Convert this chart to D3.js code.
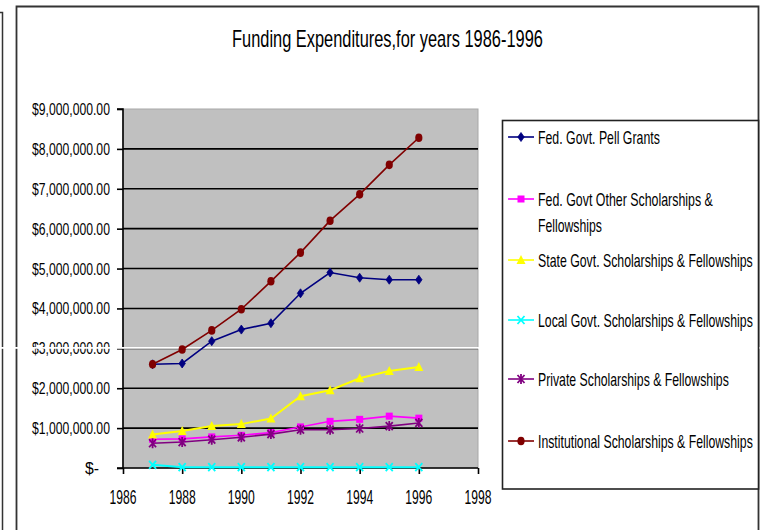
<!DOCTYPE html>
<html>
<head>
<meta charset="utf-8">
<script src="https://cdn.jsdelivr.net/npm/d3@7"></script>
<style>
  html, body { margin: 0; padding: 0; background: #ffffff; }
  svg { display: block; }
  text { font-family: "Liberation Sans Narrow", "Arial Narrow", "Liberation Sans", Arial, sans-serif; fill: #000; }
</style>
</head>
<body>
<svg id="chart" width="762" height="530"></svg>
<script>
// ---- data ----
const years = [1987, 1988, 1989, 1990, 1991, 1992, 1993, 1994, 1995, 1996];
const pellGrants   = [2600000, 2620000, 3180000, 3470000, 3630000, 4380000, 4900000, 4770000, 4720000, 4720000];
const fedOther     = [720000, 730000, 780000, 820000, 890000, 1030000, 1170000, 1220000, 1300000, 1250000];
const stateGovt    = [840000, 930000, 1050000, 1100000, 1240000, 1800000, 1950000, 2250000, 2430000, 2530000];
const localGovt    = [80000, 20000, 20000, 20000, 20000, 20000, 20000, 20000, 20000, 20000];
const privateSch   = [620000, 650000, 710000, 770000, 850000, 960000, 960000, 990000, 1050000, 1130000];
const institutional= [2600000, 2970000, 3450000, 3980000, 4680000, 5400000, 6200000, 6860000, 7600000, 8280000];

const seriesNames = [
  "Fed. Govt. Pell Grants",
  "Fed. Govt Other Scholarships & Fellowships",
  "State Govt. Scholarships & Fellowships",
  "Local Govt. Scholarships & Fellowships",
  "Private Scholarships & Fellowships",
  "Institutional Scholarships & Fellowships"
];
const seriesValues = [pellGrants, fedOther, stateGovt, localGovt, privateSch, institutional];
const seriesColors = ["#000080", "#ff00ff", "#ffff00", "#00ffff", "#800080", "#800000"];
const seriesMarkers = ["diamond", "square", "triangle", "x", "star", "circle"];

const yTicks = [0, 1000000, 2000000, 3000000, 4000000, 5000000, 6000000, 7000000, 8000000, 9000000];
const xTicks = [1986, 1988, 1990, 1992, 1994, 1996, 1998];
const titleText = "Funding Expenditures,for years 1986-1996";

// ---- layout ----
const svg = d3.select("#chart");
const x = d3.scaleLinear().domain([1986, 1998]).range([123, 478]);
const y = d3.scaleLinear().domain([0, 9000000]).range([468, 109]);

// place a text so that it spans `width` px starting at (tx, ty) baseline, compressing horizontally
function fitText(parent, str, tx, ty, width, size, anchor) {
  const g = parent.append("g");
  const t = g.append("text").attr("x", 0).attr("y", 0).attr("font-size", size).text(str);
  const w = t.node().getComputedTextLength() || width;
  const k = width / w;
  const left = anchor === "end" ? tx - width : anchor === "middle" ? tx - width / 2 : tx;
  g.attr("transform", `translate(${left},${ty}) scale(${k},1)`);
  return t;
}

// outer frames
svg.append("path").attr("d", "M0,12.5 H2.5 V531").attr("fill", "none").attr("stroke", "#333").attr("stroke-width", 1.5);
svg.append("path").attr("d", "M16.5,531 V6.5 H758.5 V531").attr("fill", "none").attr("stroke", "#333").attr("stroke-width", 1.8);

// title
fitText(svg, titleText, 232, 47, 311, 23, "start");

// plot area
svg.append("rect")
  .attr("x", x(1986)).attr("y", y(9000000))
  .attr("width", x(1998) - x(1986)).attr("height", y(0) - y(9000000))
  .attr("fill", "#c0c0c0").attr("stroke", "#a8a8a8").attr("stroke-width", 1);

// gridlines
svg.append("g").selectAll("line")
  .data(yTicks.filter(d => d > 0 && d < 9000000))
  .join("line")
  .attr("x1", x(1986)).attr("x2", x(1998))
  .attr("y1", d => y(d)).attr("y2", d => y(d))
  .attr("stroke", "#000").attr("stroke-width", 1.6);

// y axis
const yAxis = d3.axisLeft(y).tickValues(yTicks).tickSize(6).tickFormat("");
const gy = svg.append("g").attr("transform", `translate(${x(1986)},0)`).call(yAxis);
gy.selectAll("path, line").attr("stroke", "#000").attr("stroke-width", 1.6);
gy.select(".domain").attr("d", `M-6,${y(9000000)}H0V${y(0)}H-6`);

const fmt = d3.format("$,.2f");
const yLab = svg.append("g");
yTicks.forEach(d => {
  if (d === 0) fitText(yLab, "$-", 99, y(d) + 6, 14, 17, "end");
  else fitText(yLab, fmt(d), 110, y(d) + 6, 78, 17, "end");
});

// x axis
const xAxis = d3.axisBottom(x).tickValues(xTicks).tickSize(6).tickFormat("");
const gx = svg.append("g").attr("transform", `translate(0,${y(0)})`).call(xAxis);
gx.selectAll("path, line").attr("stroke", "#000").attr("stroke-width", 1.6);
gx.select(".domain").attr("d", `M${x(1986)},0H${x(1998)}`);

const xLab = svg.append("g");
xTicks.forEach(d => fitText(xLab, String(d), x(d), 504, 27, 20, "middle"));

// scan artifact: thin white band across the page
svg.append("rect").attr("x", 0).attr("y", 347).attr("width", 762).attr("height", 1.8).attr("fill", "#ffffff");

// marker drawing
function drawMarker(g, type, color) {
  if (type === "diamond") {
    g.append("path").attr("d", "M0,-4.5 L3.2,0 L0,4.5 L-3.2,0 Z").attr("fill", color).attr("stroke", color).attr("stroke-width", 0.8);
  } else if (type === "square") {
    g.append("rect").attr("x", -3.5).attr("y", -3.5).attr("width", 7).attr("height", 7).attr("fill", color);
  } else if (type === "triangle") {
    g.append("path").attr("d", "M0,-5 L4.5,4 L-4.5,4 Z").attr("fill", color);
  } else if (type === "x") {
    g.append("path").attr("d", "M-3.5,-4 L3.5,4 M3.5,-4 L-3.5,4").attr("stroke", color).attr("stroke-width", 1.8).attr("fill", "none");
  } else if (type === "star") {
    g.append("path").attr("d", "M-3.5,-4 L3.5,4 M3.5,-4 L-3.5,4 M0,-5 V5").attr("stroke", color).attr("stroke-width", 1.8).attr("fill", "none");
  } else if (type === "circle") {
    g.append("ellipse").attr("rx", 3.6).attr("ry", 4.3).attr("fill", color);
  }
}

// series
const line = d3.line().x((d, i) => x(years[i])).y(d => y(d));
seriesValues.forEach((vals, si) => {
  const color = seriesColors[si];
  const g = svg.append("g");
  g.append("path").attr("d", line(vals)).attr("fill", "none")
    .attr("stroke", color).attr("stroke-width", si === 2 || si === 3 ? 2 : 1.6);
  vals.forEach((v, i) => {
    const m = g.append("g").attr("transform", `translate(${x(years[i])},${y(v)})`);
    drawMarker(m, seriesMarkers[si], color);
  });
});

// legend
svg.append("rect").attr("x", 502.5).attr("y", 120.5).attr("width", 256).attr("height", 368.5)
  .attr("fill", "#fff").attr("stroke", "#222").attr("stroke-width", 1.6);

const legendY = [137, 199, 260, 320, 379, 441];
const legendLines = [
  [["Fed. Govt. Pell Grants", 122]],
  [["Fed. Govt Other Scholarships &", 175], ["Fellowships", 64]],
  [["State Govt. Scholarships & Fellowships", 215]],
  [["Local Govt. Scholarships & Fellowships", 215]],
  [["Private Scholarships & Fellowships", 191]],
  [["Institutional Scholarships & Fellowships", 215]]
];
seriesNames.forEach((name, si) => {
  const cy = legendY[si];
  const g = svg.append("g");
  g.append("line").attr("x1", 508).attr("x2", 534).attr("y1", cy).attr("y2", cy)
    .attr("stroke", seriesColors[si]).attr("stroke-width", 1.6);
  const m = g.append("g").attr("transform", `translate(521,${cy})`);
  drawMarker(m, seriesMarkers[si], seriesColors[si]);
  legendLines[si].forEach((ln, li) => {
    fitText(g, ln[0], 538, cy + 6.5 + li * 26, ln[1], 18, "start");
  });
});
</script>
</body>
</html>
